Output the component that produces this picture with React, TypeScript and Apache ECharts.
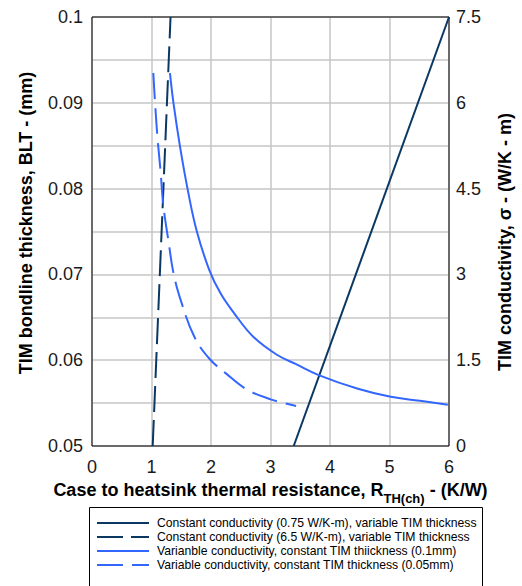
import React, { useEffect, useRef } from "react";
import * as echarts from "echarts";

const xTicks = [0, 1, 2, 3, 4, 5, 6];
const seriesNames = [
  "Constant conductivity (0.75 W/K-m), variable TIM thickness",
  "Constant conductivity (6.5 W/K-m), variable TIM thickness",
  "Varianble conductivity, constant TIM thiickness (0.1mm)",
  "Variable conductivity, constant TIM thickness (0.05mm)",
];
// [R_TH(ch) K/W, BLT mm]
const constK075: number[][] = [
  [3.39, 0.05],
  [6.0, 0.1],
];
const constK65: number[][] = [
  [1.02, 0.05],
  [1.32, 0.1],
];
// [R_TH(ch) K/W, sigma W/K-m]
const varK01: number[][] = [
  [1.31, 6.52],
  [1.37, 5.99],
  [1.48, 5.23],
  [1.62, 4.42],
  [1.76, 3.76],
  [1.97, 3.08],
  [2.16, 2.67],
  [2.39, 2.32],
  [2.71, 1.91],
  [3.1, 1.6],
  [3.43, 1.43],
  [3.81, 1.24],
  [4.47, 1.0],
  [5.02, 0.86],
  [5.51, 0.79],
  [5.98, 0.72],
];
const varK005: number[][] = [
  [1.03, 6.52],
  [1.06, 6.0],
  [1.1, 5.4],
  [1.15, 4.83],
  [1.2, 4.2],
  [1.29, 3.55],
  [1.37, 3.02],
  [1.5, 2.52],
  [1.72, 1.91],
  [1.97, 1.53],
  [2.25, 1.27],
  [2.6, 0.99],
  [2.99, 0.82],
  [3.43, 0.7],
];

const DARK = "#0b3763";
const BLUE = "#3366ff";
const FONT = "Arial, 'Liberation Sans', sans-serif";

export default function App() {
  const ref = useRef<HTMLDivElement>(null);
  useEffect(() => {
    if (!ref.current) return;
    const chart = echarts.init(ref.current, undefined, { renderer: "svg" });
    const grid = "#c6c6c6";
    chart.setOption({
      animation: false,
      textStyle: { fontFamily: FONT },
      grid: {
        left: 92,
        right: 66,
        top: 17,
        bottom: 140,
        show: true,
        borderColor: "#000",
        borderWidth: 1,
        z: 3,
      },
      legend: {
        orient: "vertical",
        left: 96,
        top: 517,
        padding: 0,
        itemWidth: 52,
        itemHeight: 14,
        itemGap: 2,
        data: seriesNames,
        itemStyle: { opacity: 0 },
        textStyle: { fontSize: 12.2, color: "#000", fontFamily: FONT, padding: [0, 0, 0, 3] },
      },
      graphic: [
        {
          type: "rect",
          shape: { x: 89.5, y: 507.5, width: 393, height: 120 },
          style: { fill: "none", stroke: "#000", lineWidth: 1 },
        },
      ],
      xAxis: {
        type: "value",
        min: xTicks[0],
        max: xTicks[xTicks.length - 1],
        interval: 1,
        axisLine: { show: false },
        axisTick: { show: false },
        axisLabel: { fontSize: 18, color: "#1a1a1a", margin: 12, fontFamily: FONT },
        splitLine: { show: true, lineStyle: { color: grid, width: 1.5 } },
        name: "{a|Case to heatsink thermal resistance, R}{b|TH(ch)}{a| - (K/W)}",
        nameLocation: "middle",
        nameGap: 29,
        nameTextStyle: {
          rich: {
            a: { fontSize: 18, fontWeight: "bold", color: "#000", fontFamily: FONT },
            b: {
              fontSize: 13,
              fontWeight: "bold",
              color: "#000",
              fontFamily: FONT,
              padding: [17, 0, 0, 0],
            },
          },
        },
      },
      yAxis: [
        {
          type: "value",
          min: 0.05,
          max: 0.1,
          interval: 0.01,
          position: "left",
          axisLine: { show: false },
          axisTick: { show: false },
          minorTick: { show: false, splitNumber: 2 },
          minorSplitLine: { show: true, lineStyle: { color: grid, width: 1.5 } },
          splitLine: { show: true, lineStyle: { color: grid, width: 1.5 } },
          axisLabel: {
            fontSize: 18,
            color: "#1a1a1a",
            margin: 9,
            fontFamily: FONT,
            formatter: (v: number) => String(+v.toFixed(3)),
          },
          name: "TIM bondline thickness, BLT - (mm)",
          nameLocation: "middle",
          nameGap: 57,
          nameTextStyle: {
            fontSize: 18,
            fontWeight: "bold",
            color: "#000",
            fontFamily: FONT,
            padding: [0, 0, 0, 17],
          },
        },
        {
          type: "value",
          min: 0,
          max: 7.5,
          interval: 1.5,
          position: "right",
          axisLine: { show: false },
          axisTick: { show: false },
          splitLine: { show: false },
          axisLabel: {
            fontSize: 18,
            color: "#1a1a1a",
            margin: 7,
            fontFamily: FONT,
            formatter: (v: number) => String(+v.toFixed(2)),
          },
          name: "TIM conductivity, σ - (W/K - m)",
          nameLocation: "middle",
          nameGap: 47,
          nameTextStyle: {
            fontSize: 18,
            fontWeight: "bold",
            color: "#000",
            fontFamily: FONT,
            padding: [0, 21, 0, 0],
          },
        },
      ],
      series: [
        {
          name: seriesNames[0],
          type: "line",
          yAxisIndex: 0,
          data: constK075,
          symbol: "none",
          lineStyle: { color: DARK, width: 2 },
          itemStyle: { color: DARK },
        },
        {
          name: seriesNames[1],
          type: "line",
          yAxisIndex: 0,
          data: constK65,
          symbol: "none",
          lineStyle: { color: DARK, width: 2, type: [26, 8] },
          itemStyle: { color: DARK },
        },
        {
          name: seriesNames[2],
          type: "line",
          yAxisIndex: 1,
          data: varK01,
          symbol: "none",
          smooth: 0.4,
          lineStyle: { color: BLUE, width: 2 },
          itemStyle: { color: BLUE },
        },
        {
          name: seriesNames[3],
          type: "line",
          yAxisIndex: 1,
          data: varK005,
          symbol: "none",
          smooth: 0.4,
          lineStyle: { color: BLUE, width: 2, type: [26, 9] },
          itemStyle: { color: BLUE },
        },
      ],
    });
    return () => chart.dispose();
  }, []);
  return <div ref={ref} style={{ width: 522, height: 586, position: "absolute", left: 0, top: 0 }} />;
}
